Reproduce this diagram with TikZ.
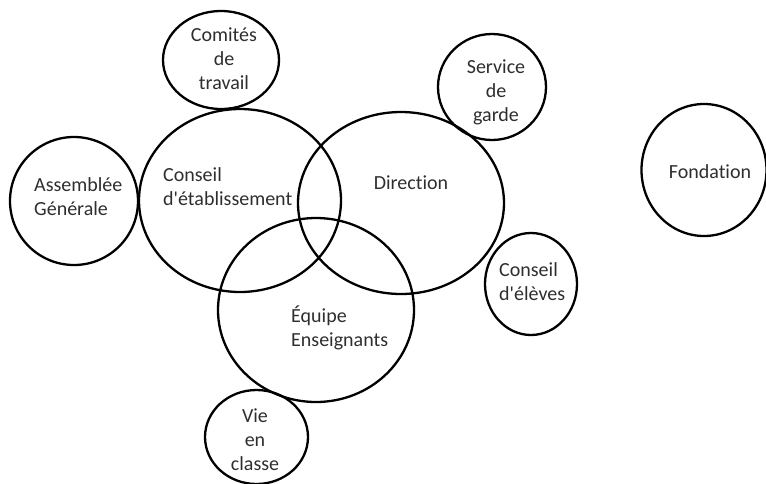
\documentclass[tikz,border=0pt]{standalone}
\usepackage{fontspec}
\setmainfont{Carlito}[Ligatures={TeXOff,NoCommon}]
\usetikzlibrary{shapes.geometric}
\tikzset{
  ring/.style={draw=black, line width=2.3pt, ellipse, inner sep=0pt},
  lbl/.style={font=\fontsize{20}{24}\selectfont, text=black!82, inner sep=0pt},
}
\begin{document}
\begin{tikzpicture}[x=1pt,y=-1pt]
\useasboundingbox (0,0) rectangle (766,483);
\node[ring, minimum width=116pt, minimum height=98pt] (comites) at (221,60) {};
\node[ring, minimum width=202pt, minimum height=183pt] (conseil) at (240,200.5) {};
\node[ring, minimum width=128pt, minimum height=128pt] (assemblee) at (74,201) {};
\node[ring, minimum width=206pt, minimum height=182pt] (direction) at (401,203) {};
\node[ring, minimum width=108pt, minimum height=106pt] (service) at (492,87) {};
\node[ring, minimum width=125pt, minimum height=132pt] (fondation) at (704,170) {};
\node[ring, minimum width=196pt, minimum height=184pt] (equipe) at (316,310) {};
\node[ring, minimum width=92pt, minimum height=102pt] (eleves) at (531,284) {};
\node[ring, minimum width=103pt, minimum height=94pt] (vie) at (256.5,437) {};

\node[lbl, align=center] (tcomites) at (224,59) {Comités\\de\\travail};
\node[lbl, align=left, anchor=west] (tassemblee) at (34,196.5) {Assemblée\\Générale};
\node[lbl, align=left, anchor=west] (tconseil) at (163,186.5) {Conseil\\d'établissement};
\node[lbl] (tdirection) at (411,183) {Direction};
\node[lbl, align=center] (tservice) at (496,92) {Service\\de\\garde};
\node[lbl] (tfondation) at (710,172) {Fondation};
\node[lbl, align=left, anchor=west] (tequipe) at (291,328) {Équipe\\Enseignants};
\node[lbl, align=left, anchor=west] (televes) at (499,282) {Conseil\\d'élèves};
\node[lbl, align=center] (tvie) at (255,440) {Vie\\en\\classe};
\end{tikzpicture}
\end{document}
